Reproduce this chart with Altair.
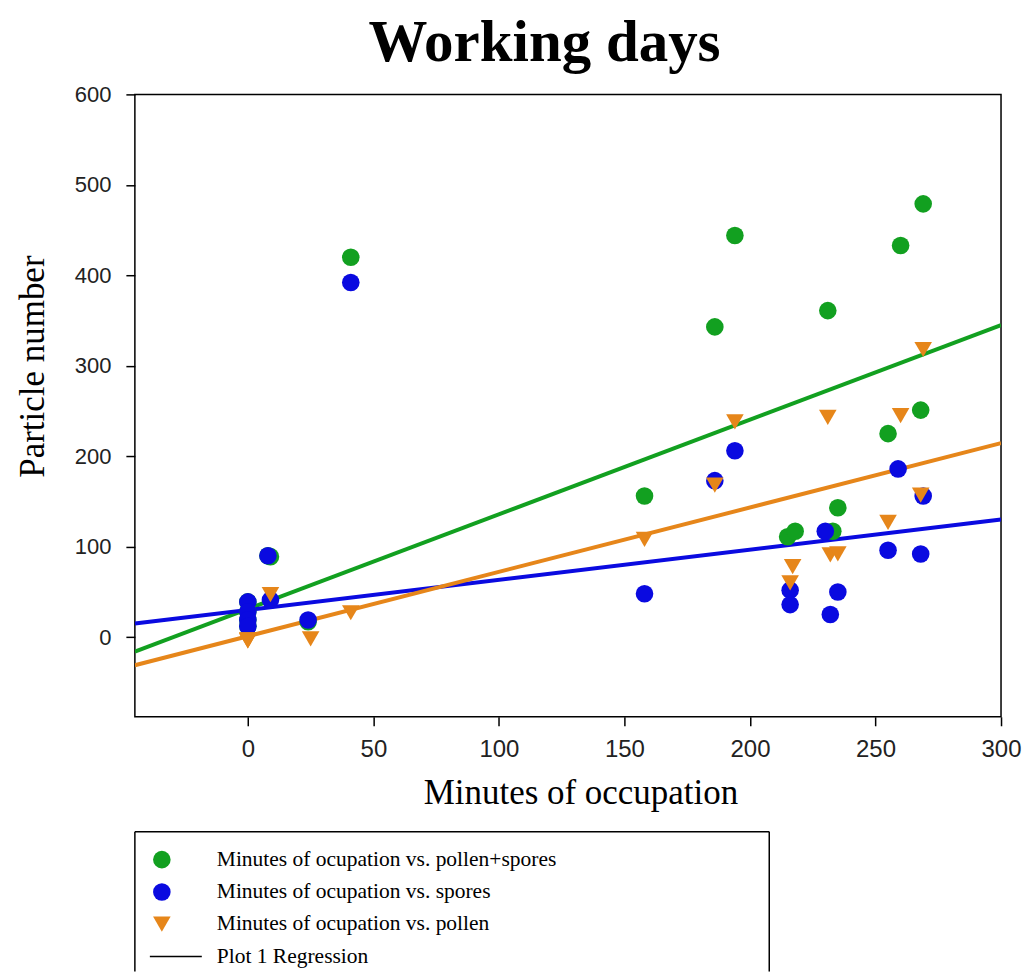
import altair as alt
import pandas as pd

# ---- data ----
series_names = [
    "Minutes of ocupation vs. pollen+spores",
    "Minutes of ocupation vs. spores",
    "Minutes of ocupation vs. pollen",
]
regression_label = "Plot 1 Regression"
series_colors = ["#12a020", "#0a0ae0", "#e6861a"]
series_shapes = ["circle", "circle", "triangle-down"]
series_sizes = [310, 310, 430]

total_x = [0, 0, 0, 0, 8, 9, 24, 41, 158, 186, 194, 215, 218, 231, 233, 235, 255, 260, 268, 269]
total_y = [39, 28, 19, 12, 90, 89, 17, 420, 156, 343, 444, 111, 117, 361, 117, 143, 225, 433, 251, 479]

spores_x = [0, 0, 0, 0, 8, 9, 24, 41, 158, 186, 194, 216, 216, 230, 232, 235, 255, 259, 268, 269]
spores_y = [39, 28, 19, 12, 90, 41, 19, 392, 48, 173, 206, 52, 36, 117, 25, 50, 96, 186, 92, 156]

pollen_x = [0, 0, 0, 0, 9, 25, 41, 158, 186, 194, 216, 217, 231, 232, 235, 255, 260, 268, 269]
pollen_y = [-4, -3, -4, -3, 47, -2, 27, 108, 168, 238, 60, 78, 243, 91, 92, 127, 245, 157, 318]

reg_x = [-45, 300]
reg_total_y = [-16, 345]
reg_spores_y = [15, 130]
reg_pollen_y = [-31, 214.5]

x_ticks = [0, 50, 100, 150, 200, 250, 300]
y_ticks = [0, 100, 200, 300, 400, 500, 600]

# ---- tables ----
pts = pd.concat([
    pd.DataFrame({"series": series_names[0], "x": total_x, "y": total_y}),
    pd.DataFrame({"series": series_names[1], "x": spores_x, "y": spores_y}),
    pd.DataFrame({"series": series_names[2], "x": pollen_x, "y": pollen_y}),
], ignore_index=True)

reg = pd.concat([
    pd.DataFrame({"series": series_names[0], "x": reg_x, "y": reg_total_y}),
    pd.DataFrame({"series": series_names[1], "x": reg_x, "y": reg_spores_y}),
    pd.DataFrame({"series": series_names[2], "x": reg_x, "y": reg_pollen_y}),
], ignore_index=True)

serif = "Liberation Serif"
sans = "Liberation Sans"

color_scale = alt.Scale(domain=series_names, range=series_colors)
shape_scale = alt.Scale(domain=series_names, range=series_shapes)
size_scale = alt.Scale(domain=series_names, range=series_sizes)
x_scale = alt.Scale(domain=[-45, 300], nice=False, zero=False)
y_scale = alt.Scale(domain=[-88, 600], nice=False, zero=False)

x_axis = alt.Axis(values=x_ticks, title="Minutes of occupation", grid=False, domain=False,
                  tickColor="black", tickSize=9, tickWidth=1.5, labelPadding=12, labelFlush=False,
                  labelFont=sans, labelFontSize=24, labelColor="#222",
                  titleFont=serif, titleFontSize=35, titleFontWeight="normal", titleColor="black",
                  titleX=446, titleY=76, titleBaseline="middle", titleAlign="center")
y_axis = alt.Axis(values=y_ticks, title="Particle number", grid=False, domain=False,
                  tickColor="black", tickSize=9, tickWidth=1.5, labelPadding=15, labelFlush=False,
                  labelFont=sans, labelFontSize=22, labelColor="#222",
                  titleFont=serif, titleFontSize=35, titleFontWeight="normal", titleColor="black",
                  titleX=-102, titleY=272, titleBaseline="middle", titleAlign="center", titleAngle=-90)

lines = alt.Chart(reg).mark_line(strokeWidth=4, clip=True).encode(
    x=alt.X("x:Q", scale=x_scale, axis=x_axis),
    y=alt.Y("y:Q", scale=y_scale, axis=y_axis),
    color=alt.Color("series:N", scale=color_scale, legend=None),
    detail="series:N",
)

points = alt.Chart(pts).mark_point(filled=True, opacity=1).encode(
    x=alt.X("x:Q", scale=x_scale),
    y=alt.Y("y:Q", scale=y_scale),
    color=alt.Color("series:N", scale=color_scale, legend=None),
    shape=alt.Shape("series:N", scale=shape_scale, legend=None),
    size=alt.Size("series:N", scale=size_scale, legend=None),
)

main = alt.layer(lines, points).properties(
    width=867, height=623,
    view=alt.ViewBackground(stroke="black", strokeWidth=1.5),
)

# ---- legend panel ----
leg_labels = series_names + [regression_label]
leg_df = pd.DataFrame({"label": leg_labels})
leg_y = alt.Y("label:N", scale=alt.Scale(type="point", domain=leg_labels, range=[28, 125], padding=0), axis=None)

leg_syms = alt.Chart(pd.DataFrame({"label": series_names})).mark_point(filled=True, opacity=1).encode(
    x=alt.value(27),
    y=leg_y,
    color=alt.Color("label:N", scale=color_scale, legend=None),
    shape=alt.Shape("label:N", scale=shape_scale, legend=None),
    size=alt.Size("label:N", scale=alt.Scale(domain=series_names, range=[240, 240, 330]), legend=None),
)
leg_line = alt.Chart(pd.DataFrame({"label": [regression_label]})).mark_rule(color="black", strokeWidth=1.5).encode(
    x=alt.value(15), x2=alt.value(67), y=leg_y,
)
leg_text = alt.Chart(leg_df).mark_text(align="left", baseline="middle", font=serif, fontSize=21.5, color="black").encode(
    x=alt.value(82), y=leg_y, text="label:N",
)
frame_df = pd.DataFrame({"k": [0]})
frame_l = alt.Chart(frame_df).mark_rule(color="black", strokeWidth=1.5).encode(
    x=alt.value(0), y=alt.value(0), y2=alt.value(140))
frame_r = alt.Chart(frame_df).mark_rule(color="black", strokeWidth=1.5).encode(
    x=alt.value(635), y=alt.value(0), y2=alt.value(140))
frame_t = alt.Chart(frame_df).mark_rule(color="black", strokeWidth=1.5).encode(
    x=alt.value(0), x2=alt.value(635), y=alt.value(0))

legend_panel = alt.layer(frame_l, frame_r, frame_t, leg_line, leg_syms, leg_text).properties(
    width=635, height=140,
    view=alt.ViewBackground(stroke=None),
)

chart = alt.vconcat(main, legend_panel, spacing=115, bounds="flush").properties(
    title=alt.TitleParams("Working days", font=serif, fontSize=59, fontWeight="bold",
                          anchor="middle", dx=26, offset=10, color="black"),
    padding={"left": 7, "top": 5, "right": 5, "bottom": 0},
)

chart.save("out.html", embed_options={"renderer": "svg", "actions": False})
